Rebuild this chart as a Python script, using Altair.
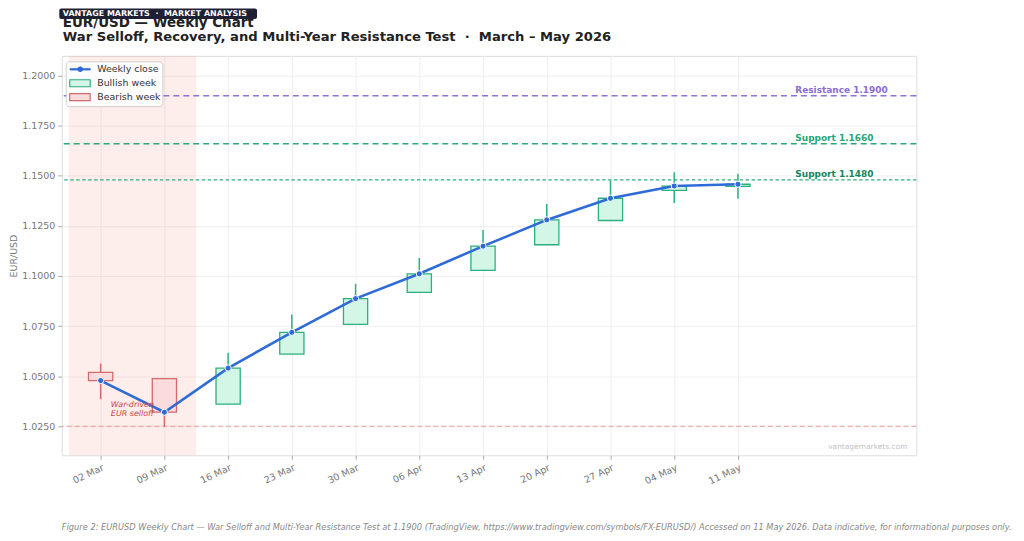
import json
import altair as alt
import pandas as pd

# ---------------- data ----------------
weeks = ["02 Mar", "09 Mar", "16 Mar", "23 Mar", "30 Mar", "06 Apr",
         "13 Apr", "20 Apr", "27 Apr", "04 May", "11 May"]
opens  = [1.0519, 1.0488, 1.0360, 1.0610, 1.0758, 1.0918, 1.1028, 1.1156, 1.1277, 1.1427, 1.1447]
closes = [1.0478, 1.0320, 1.0540, 1.0719, 1.0887, 1.1011, 1.1149, 1.1280, 1.1388, 1.1449, 1.1458]
highs  = [1.0563, 1.0488, 1.0617, 1.0808, 1.0961, 1.1090, 1.1230, 1.1360, 1.1476, 1.1518, 1.1510]
lows   = [1.0385, 1.0247, 1.0360, 1.0610, 1.0758, 1.0918, 1.1028, 1.1156, 1.1277, 1.1365, 1.1385]

level_labels = ["Resistance 1.1900", "Support 1.1660", "Support 1.1480"]
level_values = [1.1900, 1.1660, 1.1480]
selloff_floor = [1.0250]

y_ticks = [1.025, 1.050, 1.075, 1.100, 1.125, 1.150, 1.175, 1.200]
x_domain = [-0.61, 12.8]
y_domain = [1.0105, 1.2099]

FONT = "DejaVu Sans"
BLUE = "#2f6bd6"
BULL_STROKE, BULL_FILL = "#2bb07f", "#d3f6e7"
BEAR_STROKE, BEAR_FILL = "#d46a6a", "#fbdcdc"
NB = "\u00a0"

W, H = 858, 401

df = pd.DataFrame({
    "i": list(range(len(weeks))),
    "week": weeks, "open": opens, "close": closes, "high": highs, "low": lows,
})
df["x0"] = df["i"] - 0.19
df["x1"] = df["i"] + 0.19
df["stroke"] = [BULL_STROKE if c >= o else BEAR_STROKE for o, c in zip(opens, closes)]
df["fill"] = [BULL_FILL if c >= o else BEAR_FILL for o, c in zip(opens, closes)]

xs = alt.Scale(domain=x_domain, nice=False, zero=False)
ys = alt.Scale(domain=y_domain, nice=False, zero=False)

label_expr = json.dumps(weeks) + "[datum.value]"
x_axis = alt.Axis(values=list(range(len(weeks))), labelExpr=label_expr, title=None,
                  labelAngle=335, labelAlign="right", labelBaseline="top",
                  labelColor="#777777", labelFontSize=9.5, labelPadding=3,
                  tickColor="#aaaaaa", tickSize=4, domain=False,
                  grid=True, gridColor="#efefef")
y_axis = alt.Axis(values=y_ticks, format=".4f", title="EUR/USD",
                  labelColor="#777777", labelFontSize=9.5, labelPadding=3,
                  tickColor="#aaaaaa", tickSize=4, domain=False,
                  grid=True, gridColor="#efefef",
                  titleColor="#777777", titleFontSize=9.5, titleFontWeight="normal",
                  titleX=-48, titleY=H / 2, titleAngle=270,
                  titleAlign="center", titleBaseline="middle")

base = alt.Chart(df)

# shaded war sell-off zone
band = alt.Chart(pd.DataFrame({"a": [-0.5], "b": [1.5],
                               "lo": [y_domain[0]], "hi": [y_domain[1]]})).mark_rect(
    color="#e74c3c", opacity=0.1).encode(
    x=alt.X("a:Q", scale=xs, axis=x_axis), x2="b:Q",
    y=alt.Y("lo:Q", scale=ys, axis=y_axis), y2="hi:Q")

floor = alt.Chart(pd.DataFrame({"v": selloff_floor})).mark_rule(
    color="#e69a9a", strokeWidth=1, strokeDash=[5, 3]).encode(y=alt.Y("v:Q", scale=ys))

lv = pd.DataFrame({"label": level_labels, "v": level_values,
                   "col": ["#8e72d6", "#2aaa7a", "#2eae80"],
                   "tcol": ["#8a6bd1", "#22a676", "#13875b"],
                   "xt": [10.9] * 3})
res_line = alt.Chart(lv.iloc[[0]]).mark_rule(strokeWidth=1.6, strokeDash=[6, 4]).encode(
    y=alt.Y("v:Q", scale=ys), color=alt.Color("col:N", scale=None))
sup1_line = alt.Chart(lv.iloc[[1]]).mark_rule(strokeWidth=1.6, strokeDash=[6, 4]).encode(
    y=alt.Y("v:Q", scale=ys), color=alt.Color("col:N", scale=None))
sup2_line = alt.Chart(lv.iloc[[2]]).mark_rule(strokeWidth=1.2, strokeDash=[3.5, 2.5]).encode(
    y=alt.Y("v:Q", scale=ys), color=alt.Color("col:N", scale=None))
lv_text = alt.Chart(lv).mark_text(align="left", baseline="alphabetic", dy=-3,
                                  font=FONT, fontSize=9, fontWeight="bold").encode(
    x=alt.X("xt:Q", scale=xs), y=alt.Y("v:Q", scale=ys),
    text="label:N", color=alt.Color("tcol:N", scale=None))

wicks = base.mark_rule(strokeWidth=1.5).encode(
    x=alt.X("i:Q", scale=xs), y=alt.Y("low:Q", scale=ys), y2="high:Q",
    color=alt.Color("stroke:N", scale=None))
bodies = base.mark_rect(strokeWidth=1.3).encode(
    x=alt.X("x0:Q", scale=xs), x2="x1:Q",
    y=alt.Y("open:Q", scale=ys), y2="close:Q",
    fill=alt.Fill("fill:N", scale=None), stroke=alt.Stroke("stroke:N", scale=None))

close_line = base.mark_line(interpolate="linear", color=BLUE, strokeWidth=2.6).encode(
    x=alt.X("i:Q", scale=xs), y=alt.Y("close:Q", scale=ys))
close_pts = base.mark_circle(color=BLUE, size=38, opacity=1, stroke="white",
                             strokeWidth=1).encode(
    x=alt.X("i:Q", scale=xs), y=alt.Y("close:Q", scale=ys))

annot = alt.Chart(pd.DataFrame({"x": [0.16], "y": [1.0357]})).mark_text(
    text=["War-driven", "EUR selloff"], align="left", baseline="middle",
    font=FONT, fontSize=8, fontStyle="italic", color="#cc4444", lineHeight=9).encode(
    x=alt.X("x:Q", scale=xs), y=alt.Y("y:Q", scale=ys))

one = pd.DataFrame({"a": [0]})

watermark = alt.Chart(one).mark_text(text="vantagemarkets.com", align="right",
                                     baseline="middle", font=FONT, fontSize=7.5,
                                     color="#c4c4c4").encode(
    x=alt.value(849), y=alt.value(393))

# legend
leg_box = alt.Chart(one).mark_rect(fill="white", stroke="#cccccc", strokeWidth=1,
                                   cornerRadius=3, opacity=0.9).encode(
    x=alt.value(4.5), x2=alt.value(101.5), y=alt.value(6), y2=alt.value(51))
leg_line = alt.Chart(one).mark_rule(color=BLUE, strokeWidth=2.2).encode(
    x=alt.value(8), x2=alt.value(29), y=alt.value(13.5))
leg_dot = alt.Chart(one).mark_circle(color=BLUE, size=30, opacity=1).encode(
    x=alt.value(18.5), y=alt.value(13.5))
leg_bull = alt.Chart(one).mark_rect(fill=BULL_FILL, stroke=BULL_STROKE, strokeWidth=1.2).encode(
    x=alt.value(8), x2=alt.value(28.5), y=alt.value(24), y2=alt.value(31))
leg_bear = alt.Chart(one).mark_rect(fill=BEAR_FILL, stroke=BEAR_STROKE, strokeWidth=1.2).encode(
    x=alt.value(8), x2=alt.value(28.5), y=alt.value(38), y2=alt.value(45))
leg_texts = alt.Chart(pd.DataFrame({"t": ["Weekly close", "Bullish week", "Bearish week"],
                                    "yy": [13.5, 27.5, 41.5]})).mark_text(
    align="left", baseline="middle", font=FONT, fontSize=9.5, color="#333333").encode(
    x=alt.value(35.5), y=alt.Y("yy:Q", scale=None), text="t:N")

# titles
title1 = alt.Chart(one).mark_text(text="EUR/USD — Weekly Chart", align="left",
                                  baseline="alphabetic", font=FONT, fontSize=13.5,
                                  fontWeight="bold", color="#222222").encode(
    x=alt.value(1), y=alt.value(-29))
title2 = alt.Chart(one).mark_text(
    text=f"War Selloff, Recovery, and Multi-Year Resistance Test{NB}{NB}·{NB}{NB}March – May 2026",
    align="left", baseline="alphabetic", font=FONT, fontSize=13.2,
    fontWeight="bold", color="#222222").encode(x=alt.value(1), y=alt.value(-15))
badge = alt.Chart(one).mark_rect(fill="#1f2033", cornerRadius=2).encode(
    x=alt.value(-2.5), x2=alt.value(196), y=alt.value(-47.5), y2=alt.value(-37))
badge_text = alt.Chart(one).mark_text(
    text=f"VANTAGE MARKETS{NB}{NB}·{NB}{NB}MARKET ANALYSIS", align="left", baseline="middle",
    font=FONT, fontSize=8.0, fontWeight="bold", color="white").encode(
    x=alt.value(1), y=alt.value(-42.2))

caption = alt.Chart(one).mark_text(
    text=("Figure 2: EURUSD Weekly Chart — War Selloff and Multi-Year Resistance Test at 1.1900 "
          "(TradingView, https://www.tradingview.com/symbols/FX-EURUSD/) Accessed on 11 May 2026. "
          "Data indicative, for informational purposes only."),
    align="left", baseline="middle", font=FONT, fontSize=8.3, fontStyle="italic",
    color="#888888").encode(x=alt.value(0), y=alt.value(H + 73))

chart = alt.layer(
    band, floor, res_line, sup1_line, sup2_line, lv_text,
    wicks, bodies, close_line, close_pts, annot, watermark,
    leg_box, leg_line, leg_dot, leg_bull, leg_bear, leg_texts,
    title1, title2, badge, badge_text, caption,
).properties(
    width=W, height=H,
    autosize=alt.AutoSizeParams(type="none"),
    padding={"left": 54, "top": 47, "right": 100, "bottom": 77},
).configure_view(stroke="#dddddd", strokeWidth=1).configure(
    font=FONT, background="white")

chart.save("out.html", embed_options={"renderer": "svg", "actions": False})
